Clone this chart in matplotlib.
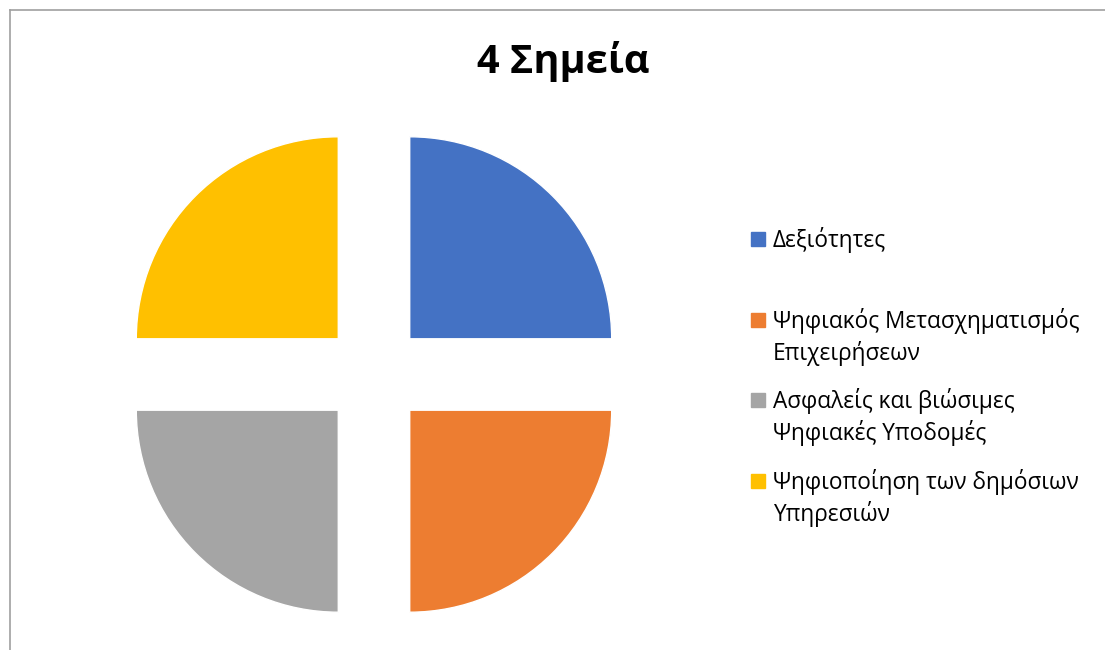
import matplotlib
matplotlib.use('Agg')
import matplotlib.pyplot as plt
from matplotlib.lines import Line2D
from matplotlib.patches import Rectangle

plt.rcParams['font.family'] = ['Open Sans', 'DejaVu Sans']

title = '4 Σημεία'
labels = ['Δεξιότητες',
          'Ψηφιακός Μετασχηματισμός\nΕπιχειρήσεων',
          'Ασφαλείς και βιώσιμες\nΨηφιακές Υποδομές',
          'Ψηφιοποίηση των δημόσιων\nΥπηρεσιών']
values = [1, 1, 1, 1]
colors = ['#4472C4', '#ED7D31', '#A5A5A5', '#FFC000']

W, H = 1105, 650
fig = plt.figure(figsize=(W / 100, H / 100), dpi=100)

# pie axes: 1 data unit = 202 px, centred at (374, 374.5) px
half = 1.25
side = 2 * half * 202
cx, cy = 374, 374.5
ax = fig.add_axes([(cx - side / 2) / W, 1 - (cy + side / 2) / H, side / W, side / H])
ax.pie(values, colors=colors, startangle=90, counterclock=False,
       explode=[0.25] * len(values), radius=1,
       wedgeprops=dict(edgecolor='white', linewidth=1))
ax.set_xlim(-half, half)
ax.set_ylim(-half, half)
ax.set_aspect('equal')
ax.axis('off')

fig.text(563 / W, 1 - 73 / H, title, ha='center', va='baseline',
         fontsize=28.5, fontweight='bold', color='black')

# legend, drawn like the Excel one
y0, step, line_h = 247, 80.7, 32
for i, (lab, col) in enumerate(zip(labels, colors)):
    base = y0 + i * step
    fig.add_artist(Rectangle((751 / W, 1 - (base - 1) / H), 14 / W, 14 / H,
                             transform=fig.transFigure, color=col))
    for k, line in enumerate(lab.split('\n')):
        fig.text(773 / W, 1 - (base + k * line_h) / H, line, ha='left',
                 va='baseline', fontsize=16.3, color='black')

# chart frame
fc = '#a0a0a0'
fig.add_artist(Line2D([10 / W, 1], [1 - 10 / H, 1 - 10 / H], color=fc, lw=1.2,
                      transform=fig.transFigure))
fig.add_artist(Line2D([10 / W, 10 / W], [0, 1 - 10 / H], color=fc, lw=1.2,
                      transform=fig.transFigure))

fig.savefig('out.png', dpi=100)
